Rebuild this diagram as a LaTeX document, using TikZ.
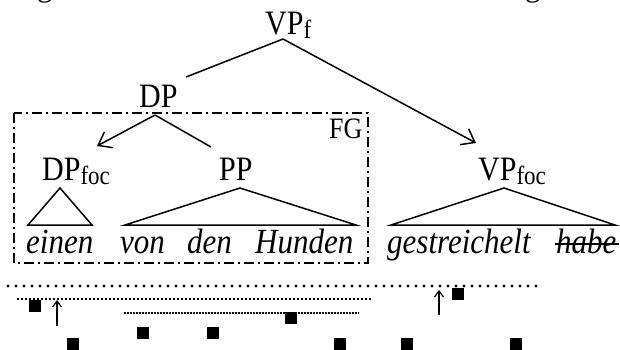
\documentclass[tikz,border=0pt]{standalone}
\usepackage{graphicx}
\usepackage{fontspec}
\setmainfont{Liberation Serif}
\usetikzlibrary{arrows.meta}
\newcommand\tall[1]{\scalebox{1}[1.14]{#1}}
\newcommand\labsub[2]{\tall{#1\raisebox{-4pt}{\fontsize{23}{23}\selectfont #2}}}
\begin{document}
\begin{tikzpicture}[x=1pt,y=-1pt,
  lab/.style={inner sep=0pt, anchor=base west, font=\fontsize{30}{30}\selectfont},
  wd/.style={inner sep=0pt, anchor=base west, font=\fontsize{31}{31}\selectfont\itshape},
  treeline/.style={line width=1.5pt},
  barb/.style={treeline,-{Straight Barb[length=12pt,width=18pt,line width=1.5pt]}},
  tri/.style={line width=1.5pt, line join=miter},
  fgbox/.style={line width=1.2pt, dash pattern=on 10pt off 4pt on 2pt off 4pt},
  sq/.style={fill=black, inner sep=0pt, minimum size=12pt, draw=none},
  thickdots/.style={line width=3.4pt, line cap=round, dash pattern=on 0pt off 8pt},
  thindots/.style={line width=2pt, dash pattern=on 2pt off 2pt},
  finedots/.style={line width=1.5pt, dash pattern=on 1.5pt off 1.5pt},
  uparrow/.style={line width=1.2pt,-{Straight Barb[length=6pt,width=9pt,line width=1.2pt]}}]
\useasboundingbox (0,0) rectangle (620,349);
\clip (0,0) rectangle (620,349);

% fragments of the previous line
\node[wd, font=\fontsize{31}{31}\selectfont] (gl) at (37,-4) {g};
\node[wd, font=\fontsize{31}{31}\selectfont] (gr) at (525,-4) {g};

% labels
\node[lab] (vpf) at (265,34) {\labsub{VP}{f}};
\node[lab] (dp) at (139,107) {\tall{DP}};
\node[inner sep=0pt, anchor=base west, font=\fontsize{26}{26}\selectfont] (fg) at (329,138) {\tall{FG}};
\node[lab] (dpfoc) at (42,180) {\labsub{DP}{foc}};
\node[lab] (pp) at (219,180) {\tall{PP}};
\node[lab] (vpfoc) at (478,180) {\labsub{VP}{foc}};

% words
\node[wd] (w1) at (26,253) {\tall{einen}};
\node[wd] (w2) at (120,253) {\tall{von}};
\node[wd] (w3) at (187,253) {\tall{den}};
\node[wd] (w4) at (255,253) {\tall{Hunden}};
\node[wd] (w5) at (387,253) {\tall{gestreichelt}};
\node[wd] (w6) at (556,253) {\tall{habe}};
\draw[line width=1.3pt] ([xshift=-1pt,yshift=9pt]w6.base west) -- ([xshift=2pt,yshift=9pt]w6.base east);

% tree connectors
\coordinate (vpfa) at (283,39);
\coordinate (dpend) at (186,77);
\coordinate (vpfocend) at (476,143);
\coordinate (dpa) at (155,115);
\coordinate (dpfocend) at (97,146);
\coordinate (ppend) at (211,147);
\draw[treeline] (vpfa) -- (dpend);
\draw[barb] (vpfa) -- (vpfocend);
\draw[barb] (dpa) -- (dpfocend);
\draw[treeline] (dpa) -- (ppend);

% triangles
\draw[tri] (60,188) -- (28,225) -- (92,225) -- cycle;
\draw[tri] (240,188) -- (125,225) -- (356,225) -- cycle;
\draw[tri] (504,188) -- (391,225) -- (615,225) -- cycle;

% focus group box
\draw[fgbox] (14,113) rectangle (368,263);

% dotted lines
\coordinate (d1a) at (8,286);
\coordinate (d1b) at (537,286);
\coordinate (d2a) at (17,299);
\coordinate (d2b) at (371,299);
\coordinate (d3a) at (124,313);
\coordinate (d3b) at (359,313);
\draw[thickdots] (d1a) -- (d1b);
\draw[thindots] (d2a) -- (d2b);
\draw[finedots] (d3a) -- (d3b);

% squares
\node[sq] (s1) at (35,306) {};
\node[sq] (s2) at (73,344) {};
\node[sq] (s3) at (143,333) {};
\node[sq] (s4) at (213,333) {};
\node[sq] (s5) at (291,318) {};
\node[sq] (s6) at (458,294) {};
\node[sq] (s7) at (340,344) {};
\node[sq] (s8) at (407,344) {};
\node[sq] (s9) at (516,344) {};

% arrows
\coordinate (a1s) at (57,326);
\coordinate (a1e) at (57,300);
\coordinate (a2s) at (439,315);
\coordinate (a2e) at (439,290);
\draw[uparrow] (a1s) -- (a1e);
\draw[uparrow] (a2s) -- (a2e);
\end{tikzpicture}
\end{document}
